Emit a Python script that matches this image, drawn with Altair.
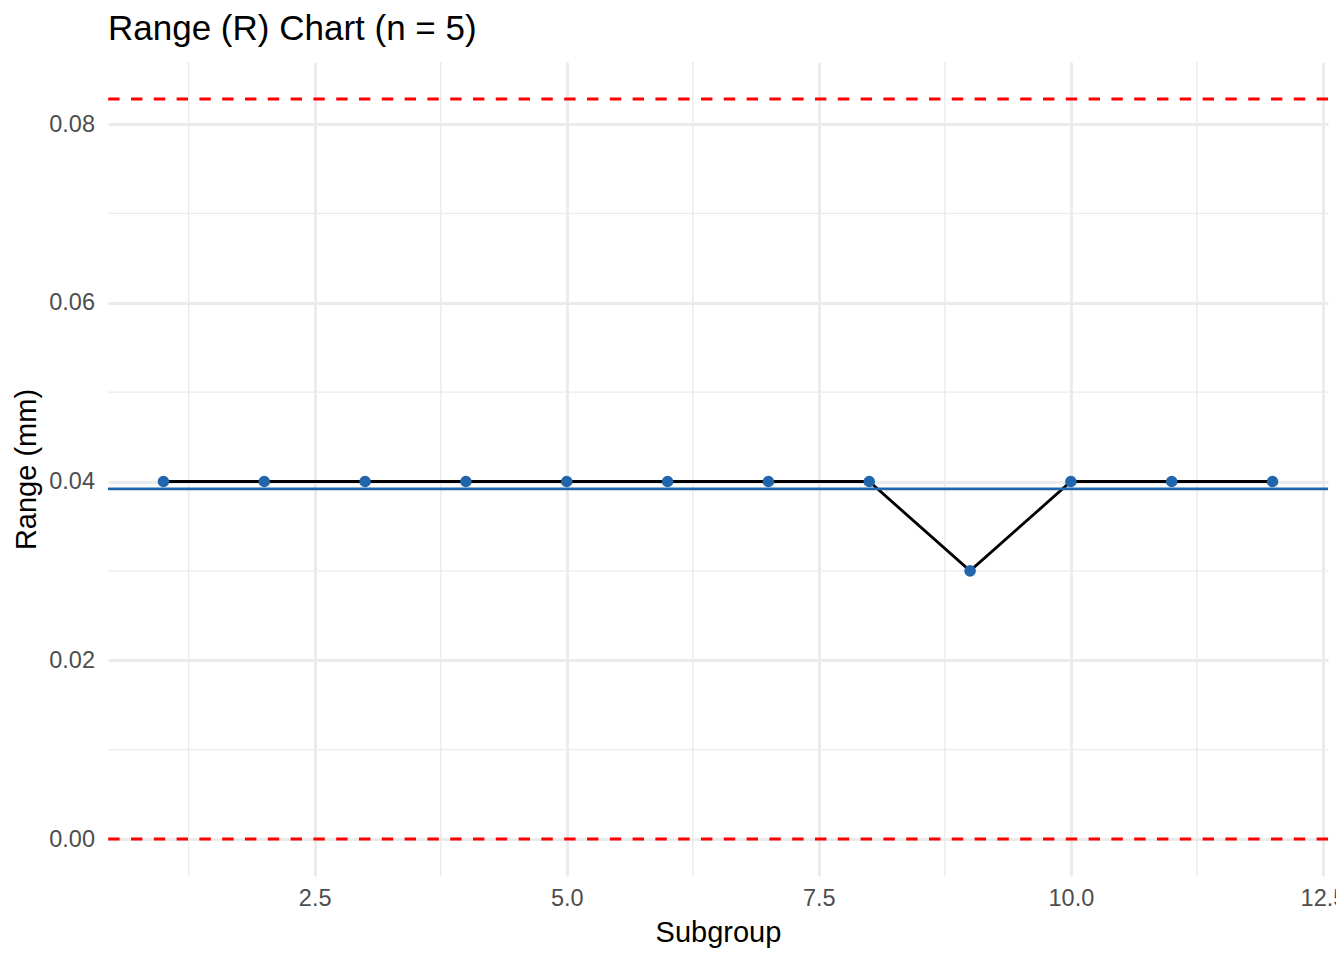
import altair as alt
import pandas as pd

# ---- data ----
SUBGROUPS = [1, 2, 3, 4, 5, 6, 7, 8, 9, 10, 11, 12]
RANGES = [0.04, 0.04, 0.04, 0.04, 0.04, 0.04, 0.04, 0.04, 0.03, 0.04, 0.04, 0.04]
CENTER_LINE = [0.03917]
CONTROL_LIMITS = [0.0828, 0.0]
X_TICKS = [2.5, 5.0, 7.5, 10.0, 12.5]
X_MINOR = [1.25, 3.75, 6.25, 8.75, 11.25]
Y_TICKS = [0.0, 0.02, 0.04, 0.06, 0.08]
Y_MINOR = [0.01, 0.03, 0.05, 0.07]
X_DOMAIN = [0.45, 12.55]
Y_DOMAIN = [-0.00414, 0.08694]

FONT = "Liberation Sans"
GRID = "#EBEBEB"
BLUE = "#2166AC"
LW = 2.84

df = pd.DataFrame({"Subgroup": SUBGROUPS, "Range": RANGES})
df_center = pd.DataFrame({"Range": CENTER_LINE})
df_limits = pd.DataFrame({"Range": CONTROL_LIMITS})
df_xminor = pd.DataFrame({"Subgroup": X_MINOR})
df_yminor = pd.DataFrame({"Range": Y_MINOR})

xs = alt.Scale(domain=X_DOMAIN, nice=False, zero=False)
ys = alt.Scale(domain=Y_DOMAIN, nice=False, zero=False)

x_axis = alt.Axis(
    values=X_TICKS, format=".1f", grid=True, gridColor=GRID, gridWidth=LW,
    domain=False, ticks=False, tickSize=0, labelPadding=10, titlePadding=9,
    labelFontSize=23.5, labelColor="#4D4D4D", labelFont=FONT,
    titleFontSize=29, titleFontWeight="normal", titleColor="black", titleFont=FONT,
    labelFlush=False, labelOverlap=False,
)
y_axis = alt.Axis(
    values=Y_TICKS, format=".2f", grid=True, gridColor=GRID, gridWidth=LW,
    domain=False, ticks=False, tickSize=0, labelPadding=13.5, titlePadding=7,
    labelFontSize=23.5, labelColor="#4D4D4D", labelFont=FONT,
    titleFontSize=29, titleFontWeight="normal", titleColor="black", titleFont=FONT,
    labelOverlap=False,
)

X = lambda: alt.X("Subgroup:Q", scale=xs, axis=x_axis, title="Subgroup")
Y = lambda: alt.Y("Range:Q", scale=ys, axis=y_axis, title="Range (mm)")

minor_x = alt.Chart(df_xminor).mark_rule(color=GRID, strokeWidth=LW / 2).encode(x=X())
minor_y = alt.Chart(df_yminor).mark_rule(color=GRID, strokeWidth=LW / 2).encode(y=Y())

line = alt.Chart(df).mark_line(color="black", strokeWidth=LW).encode(x=X(), y=Y())
points = alt.Chart(df).mark_circle(color=BLUE, size=135, opacity=1).encode(x=X(), y=Y())
center = alt.Chart(df_center).mark_rule(color=BLUE, strokeWidth=LW).encode(y=Y())
limits = alt.Chart(df_limits).mark_rule(
    color="#FF0000", strokeWidth=LW, strokeDash=[11.4, 11.4]
).encode(y=Y())

chart = (
    alt.layer(minor_x, minor_y, line, points, center, limits)
    .properties(
        width=1220,
        height=814,
        background="white",
        autosize=alt.AutoSizeParams(type="none"),
        padding={"left": 100, "top": 54, "right": 8, "bottom": 76},
        title=alt.TitleParams(
            "Range (R) Chart (n = 5)", anchor="start", frame="group",
            fontSize=35, font=FONT, fontWeight="normal", color="black", offset=14,
        ),
    )
    .configure_view(stroke="transparent", strokeWidth=0)
)

chart.save("out.html", embed_options={"renderer": "svg", "actions": False})
